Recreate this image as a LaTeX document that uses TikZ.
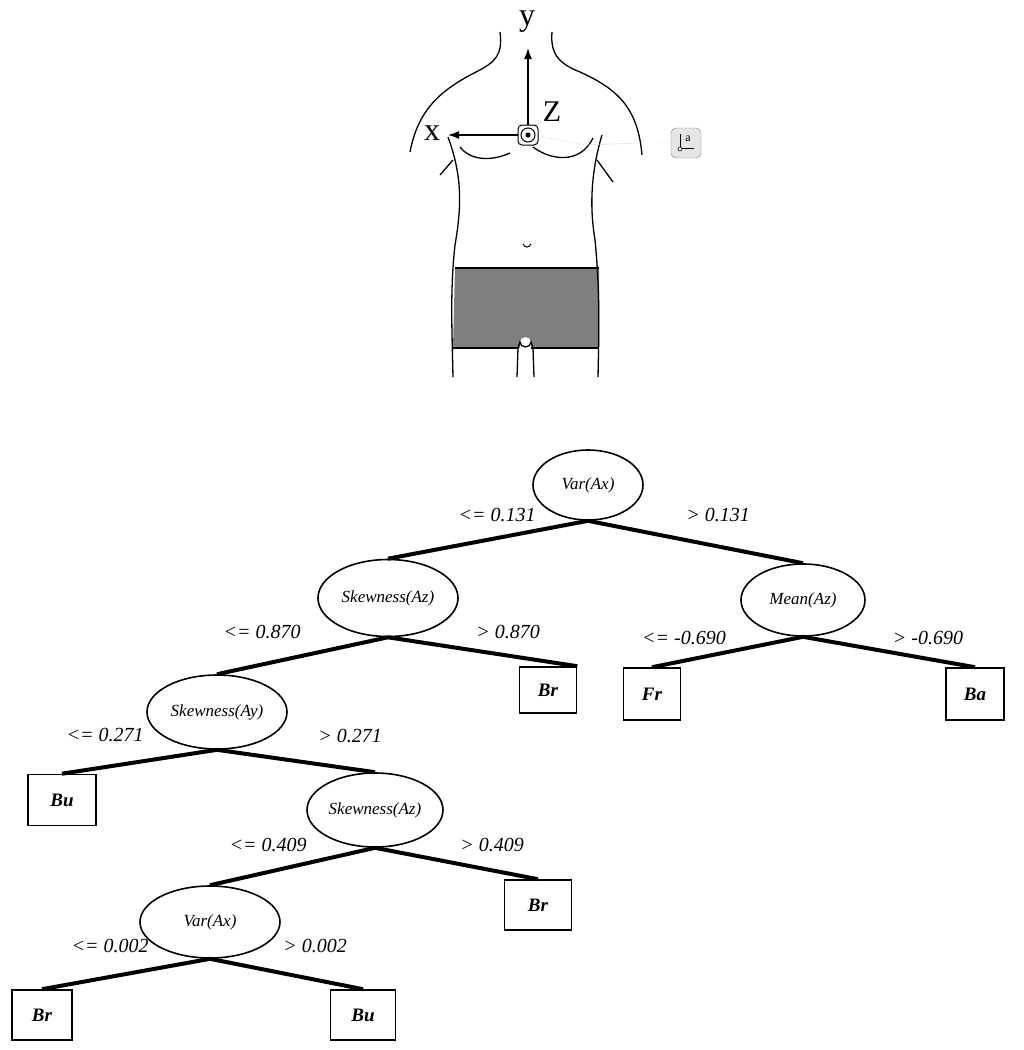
\documentclass[tikz,border=0pt]{standalone}
\usepackage{fontspec}
\setmainfont{Liberation Serif}
\usetikzlibrary{shapes.geometric,arrows.meta}
\begin{document}
\begin{tikzpicture}[x=1pt,y=-1pt,
  dec/.style={ellipse,draw,line width=1.6pt,inner sep=0pt,font=\itshape\fontsize{17}{17}\selectfont},
  leaf/.style={rectangle,draw,line width=1.6pt,minimum width=60pt,minimum height=50pt,font=\bfseries\itshape\fontsize{19}{19}\selectfont},
  br/.style={line width=4pt},
  lab/.style={font=\itshape\fontsize{20}{20}\selectfont},
  body/.style={line width=1.3pt}]
\useasboundingbox (0,0) rectangle (1024,1050);
% ---------- torso ----------
\fill[fill=black!50] (455,268) -- (599,268) -- (599,348) -- (531,348) -- (531,342) arc[start angle=0,end angle=180,x radius=5.5,y radius=-5] -- (520,348) -- (453,348) -- cycle;
\draw[body] (455,268) -- (599,268) (453,348) -- (518,348) (531,348) -- (599,348);
\draw[body] (518,348) -- (520,342) arc[start angle=180,end angle=0,x radius=5.5,y radius=5] -- (533,348);
\draw[body] (518,348) -- (517,377) (533,348) -- (534,377);
\draw[body] (500,32) .. controls (503,55) and (495,62) .. (478,71) .. controls (440,90) and (418,110) .. (410,152);
\draw[body] (552,32) .. controls (550,55) and (560,64) .. (580,72) .. controls (620,90) and (638,110) .. (642,155);
\draw[body] (448,137) .. controls (462,175) and (462,205) .. (455,245) .. controls (450,290) and (452,330) .. (453,377);
\draw[body] (602,135) .. controls (590,175) and (590,210) .. (595,240) .. controls (600,290) and (599,330) .. (598,377);
\draw[body] (440,175) -- (453,160) (597,160) -- (613,182);
\draw[body] (460,147) .. controls (470,160) and (490,162) .. (510,153);
\draw[body] (533,147) .. controls (550,160) and (580,165) .. (593,138);
\draw[line width=1pt] (523,244) .. controls (525,248) and (529,248) .. (531,244);
% sensor & axes
\draw[gray!60,densely dotted] (538,136) -- (585,145);
\draw[gray!30] (585,145) -- (640,143) (658,143) -- (670,143);
\node[draw,rounded corners=4pt,line width=1pt,minimum size=20pt,inner sep=0pt] (sq) at (528,135) {};
\node[draw,circle,line width=1pt,minimum size=14pt,inner sep=0pt] (ci) at (528,135) {};
\fill (528,135) circle (2.5pt);
\coordinate (ytip) at (528,48);
\coordinate (xtip) at (448,135);
\draw[line width=1.3pt,-{Latex[length=11pt,width=8pt]}] (sq.north) -- (ytip);
\draw[line width=1.3pt,-{Latex[length=11pt,width=8pt]}] (sq.west) -- (xtip);
\node[font=\fontsize{32}{32}\selectfont] (ylab) at (527,22) {y};
\node[font=\fontsize{32}{32}\selectfont] (xlab) at (432,133) {x};
\node[font=\fontsize{30}{30}\selectfont] (zlab) at (552,112) {Z};
\node[draw=gray,fill=gray!20,rounded corners=5pt,minimum width=30pt,minimum height=30pt,inner sep=0pt] (icon) at (686,143) {};
\node[font=\fontsize{12}{12}\selectfont] (ia) at (688,139) {a};
\draw[line width=0.6pt] (680,134) -- (680,148) (680,148) -- (694,148);
\draw[line width=0.6pt,fill=white] (680,149) circle (2pt);
% ---------- tree ----------
\node[dec,minimum width=110pt,minimum height=70pt] (r) at (588,485) {Var(Ax)};
\node[dec,minimum width=140pt,minimum height=77pt] (s1) at (388,598) {Skewness(Az)};
\node[dec,minimum width=124pt,minimum height=72pt] (m) at (803,600) {Mean(Az)};
\node[dec,minimum width=140pt,minimum height=74pt] (s2) at (217,712) {Skewness(Ay)};
\node[dec,minimum width=136pt,minimum height=74pt] (s3) at (375,810) {Skewness(Az)};
\node[dec,minimum width=140pt,minimum height=72pt] (v2) at (210,922) {Var(Ax)};
\node[leaf,minimum width=57pt,minimum height=46pt] (br1) at (548,690) {Br};
\node[leaf,minimum width=57pt,minimum height=52pt] (fr) at (652,694) {Fr};
\node[leaf,minimum width=58pt,minimum height=52pt] (ba) at (975,694) {Ba};
\node[leaf,minimum width=68pt,minimum height=51pt] (bu1) at (62,800) {Bu};
\node[leaf,minimum width=67pt,minimum height=50pt] (br2) at (538,905) {Br};
\node[leaf,minimum width=60pt,minimum height=50pt] (br3) at (42,1015) {Br};
\node[leaf,minimum width=65pt,minimum height=50pt] (bu2) at (363,1015) {Bu};
\draw[br] (r.south) -- (s1.north);
\draw[br] (r.south) -- (m.north);
\draw[br] (s1.south) -- (s2.north);
\draw[br] (s1.south) -- (br1.north east);
\draw[br] (m.south) -- (fr.north);
\draw[br] (m.south) -- (ba.north);
\draw[br] (s2.south) -- (bu1.north);
\draw[br] (s2.south) -- (s3.north);
\draw[br] (s3.south) -- (v2.north);
\draw[br] (s3.south) -- (br2.north);
\draw[br] (v2.south) -- (br3.north);
\draw[br] (v2.south) -- (bu2.north);
\node[lab] (l1) at (497,515) {<= 0.131};
\node[lab] (l2) at (718,515) {> 0.131};
\node[lab] (l3) at (262,632) {<= 0.870};
\node[lab] (l4) at (508,632) {> 0.870};
\node[lab] (l5) at (684,638) {<= -0.690};
\node[lab] (l6) at (928,638) {> -0.690};
\node[lab] (l7) at (105,735) {<= 0.271};
\node[lab] (l8) at (350,736) {> 0.271};
\node[lab] (l9) at (268,845) {<= 0.409};
\node[lab] (l10) at (492,845) {> 0.409};
\node[lab] (l11) at (110,946) {<= 0.002};
\node[lab] (l12) at (315,946) {> 0.002};
\end{tikzpicture}
\end{document}
